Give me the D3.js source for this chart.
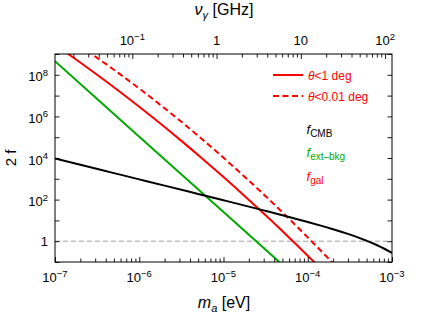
<!DOCTYPE html>
<html><head><meta charset="utf-8">
<script src="https://cdn.jsdelivr.net/npm/d3@7"></script>
<style>
body{margin:0;background:#fff;}
svg{display:block;font-family:"Liberation Sans",Arial,Helvetica,sans-serif;}
</style>
</head><body>
<svg id="c" width="424" height="316"></svg>
<script>
// ---- data ----
const GHZ_PER_EV = 1.209e5;          // top axis: nu = m / (2h)
const cmbMass = [1e-7,2e-7,5e-7,1e-6,2e-6,5e-6,1e-5,2e-5,3e-5,5e-5,1e-4,1.5e-4,2e-4,3e-4,4e-4,5e-4,6e-4,7e-4,8e-4,1e-3];
const cmb2f   = [9400,4700,1880,940,470,187,93,46,30.3,17.8,8.43,5.32,3.77,2.24,1.49,1.05,0.774,0.582,0.446,0.270];
const extMass = [1e-7,1e-6,1e-5,1e-4];
const ext2f   = [4.47e8,1.06e5,25.1,0.006];
const galMass = [1e-7,1.778e-7,3.162e-7,5.623e-7,1e-6,1.778e-6,3.162e-6,5.623e-6,1e-5,1.778e-5,3.162e-5,5.623e-5,1e-4,1.778e-4,3.162e-4];
const gal1deg   = [2.78e9,5.46e8,1.01e8,1.77e7,2.91e6,4.54e5,6.67e4,9.27e3,1.21e3,150,17.5,1.94,0.201,0.020];
const gal001deg = [1.47e10,3.22e9,6.56e8,1.24e8,2.19e7,3.59e6,5.48e5,7.78e4,1.03e4,1.26e3,145,15.4,1.53,0.141,0.0121];
const xTickLabels = [[1e-7,"10","−7"],[1e-6,"10","−6"],[1e-5,"10","−5"],[1e-4,"10","−4"],[1e-3,"10","−3"]];
const topTickLabels = [[0.1,"10","−1"],[1,"1",""],[10,"10",""],[100,"10","2"]];
const yTickLabels = [[1,"1",""],[1e2,"10","2"],[1e4,"10","4"],[1e6,"10","6"],[1e8,"10","8"]];

// ---- layout ----
const L=55,R=392,T=54,B=262;
const RED="#ff0000", GREEN="#00aa00";
const svg=d3.select("#c");
const x=d3.scaleLog().domain([1e-7,1e-3]).range([L,R]);
const y=d3.scaleLog().domain([1e-1,1e9]).range([B,T]);
const xt=d3.scaleLog().domain([1e-7*GHZ_PER_EV,1e-3*GHZ_PER_EV]).range([L,R]);
const isPow=v=>Math.abs(Math.log10(v)-Math.round(Math.log10(v)))<1e-6;

svg.append("defs").append("clipPath").attr("id","clip")
  .append("rect").attr("x",L).attr("y",T).attr("width",R-L).attr("height",B-T);
const g=svg.append("g").attr("clip-path","url(#clip)");

// reference line 2f = 1
g.append("line").attr("x1",L).attr("x2",R).attr("y1",y(1)).attr("y2",y(1))
  .attr("stroke","#a0a0a0").attr("stroke-width",1).attr("stroke-dasharray","5,3");

const line=d3.line().x(d=>x(d[0])).y(d=>y(d[1])).curve(d3.curveMonotoneX);
const zip=(a,b)=>a.slice(0,b.length).map((v,i)=>[v,b[i]]);
g.append("path").attr("d",d3.line().x(d=>x(d[0])).y(d=>y(d[1]))(zip(extMass,ext2f)))
  .attr("fill","none").attr("stroke",GREEN).attr("stroke-width",2);
g.append("path").attr("d",line(zip(galMass,gal1deg)))
  .attr("fill","none").attr("stroke",RED).attr("stroke-width",2);
g.append("path").attr("d",line(zip(galMass,gal001deg)))
  .attr("fill","none").attr("stroke",RED).attr("stroke-width",2).attr("stroke-dasharray","6,3.5");
g.append("path").attr("d",line(zip(cmbMass,cmb2f)))
  .attr("fill","none").attr("stroke","#000").attr("stroke-width",2);

// ---- axes ----
function addAxis(axis,tr){
  const a=svg.append("g").attr("transform",tr).call(axis);
  a.select(".domain").remove();
  a.selectAll("line").attr("stroke","#000").attr("stroke-width",0.9);
  return a;
}
const xAll=x.ticks(), xtAll=xt.ticks(), yAll=y.ticks();
addAxis(d3.axisBottom(x).tickValues(xAll.filter(v=>!isPow(v))).tickSize(-3.5).tickFormat(""),`translate(0,${B})`);
addAxis(d3.axisBottom(x).tickValues(xAll.filter(isPow)).tickSize(-5).tickFormat(""),`translate(0,${B})`);
addAxis(d3.axisTop(xt).tickValues(xtAll.filter(v=>!isPow(v))).tickSize(-3.5).tickFormat(""),`translate(0,${T})`);
addAxis(d3.axisTop(xt).tickValues(xtAll.filter(isPow)).tickSize(-5).tickFormat(""),`translate(0,${T})`);
addAxis(d3.axisLeft(y).tickValues(yAll).tickSize(-4.5).tickFormat(""),`translate(${L},0)`);
addAxis(d3.axisRight(y).tickValues(yAll).tickSize(-4.5).tickFormat(""),`translate(${R},0)`);

svg.append("rect").attr("x",L).attr("y",T).attr("width",R-L).attr("height",B-T)
  .attr("fill","none").attr("stroke","#000").attr("stroke-width",1);

function powLabel(px,py,base,exp,anchor){
  const t=svg.append("text").attr("x",px).attr("y",py).attr("font-size",13)
    .attr("text-anchor",anchor).attr("fill","#000");
  t.append("tspan").text(base);
  if(exp) t.append("tspan").attr("dy",-5.5).attr("font-size",9.5).text(exp);
}
xTickLabels.forEach(d=>powLabel(x(d[0]),282,d[1],d[2],"middle"));
topTickLabels.forEach(d=>powLabel(xt(d[0]),45,d[1],d[2],"middle"));
yTickLabels.forEach(d=>powLabel(48,y(d[0])+(d[2]?6.5:4.7),d[1],d[2],"end"));

// axis titles
const tt=svg.append("text").attr("x",224).attr("y",15).attr("font-size",16).attr("text-anchor","middle");
tt.append("tspan").attr("font-style","italic").text("ν");
tt.append("tspan").attr("font-style","italic").attr("font-size",11).attr("dy",4).text("γ");
tt.append("tspan").attr("dy",-4).text(" [GHz]");
const bt=svg.append("text").attr("x",224).attr("y",308).attr("font-size",16).attr("text-anchor","middle");
bt.append("tspan").attr("font-style","italic").text("m");
bt.append("tspan").attr("font-style","italic").attr("font-size",11).attr("dy",4).text("a");
bt.append("tspan").attr("dy",-4).text(" [eV]");
svg.append("text").attr("transform","translate(15.5,158) rotate(-90)").attr("font-size",15)
  .attr("text-anchor","middle").text("2 f");

// ---- legend ----
const lg=svg.append("g");
lg.append("line").attr("x1",273).attr("x2",303).attr("y1",75).attr("y2",75).attr("stroke",RED).attr("stroke-width",2);
lg.append("line").attr("x1",273).attr("x2",303).attr("y1",96).attr("y2",96).attr("stroke",RED).attr("stroke-width",2).attr("stroke-dasharray","6,3.5");
function legText(py,rest){
  const t=lg.append("text").attr("x",308).attr("y",py).attr("font-size",12).attr("fill",RED);
  t.append("tspan").attr("font-style","italic").text("θ");
  t.append("tspan").text(rest);
}
legText(79.5,"<1 deg"); legText(100.5,"<0.01 deg");
function fLabel(py,sub,col){
  const t=lg.append("text").attr("x",306.5).attr("y",py).attr("font-size",13).attr("fill",col);
  t.append("tspan").attr("font-style","italic").text("f");
  t.append("tspan").attr("font-size",10).attr("dy",3).text(sub);
}
fLabel(133.5,"CMB","#000");
fLabel(157,"ext–bkg",GREEN);
fLabel(181,"gal",RED);
</script>
</body></html>
